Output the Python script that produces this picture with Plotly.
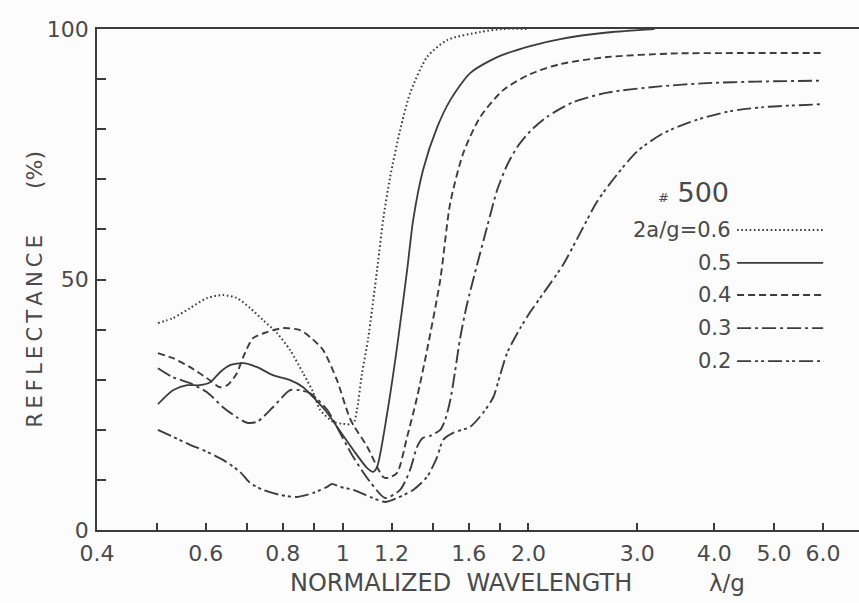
import math
import plotly.graph_objects as go

# ---- data (normalized wavelength lambda/g, reflectance %) ----
x_06 = [0.502, 0.531, 0.566, 0.603, 0.640, 0.674, 0.708, 0.743, 0.783, 0.822, 0.863, 0.896, 0.919,
        0.965, 1.000, 1.040, 1.055, 1.075, 1.100, 1.137, 1.163, 1.194, 1.239, 1.286, 1.370, 1.477,
        1.670, 1.820, 2.000]
y_06 = [41.3, 42.3, 44.3, 46.3, 46.9, 46.3, 44.3, 41.9, 39.3, 35.9, 31.3, 27.5, 24.0,
        21.6, 21.2, 21.2, 24.0, 31.3, 38.3, 51.9, 61.9, 70.5, 79.8, 87.2, 94.4, 97.8,
        99.4, 100.0, 100.0]

x_05 = [0.502, 0.531, 0.560, 0.587, 0.610, 0.633, 0.657, 0.690, 0.727, 0.771, 0.822, 0.863, 0.896,
        0.944, 0.979, 1.040, 1.095, 1.120, 1.137, 1.181, 1.225, 1.272, 1.301, 1.350, 1.423, 1.494,
        1.609, 1.780, 2.013, 2.252, 2.684, 3.2]
y_05 = [25.1, 27.9, 28.9, 28.9, 29.5, 31.5, 32.9, 33.3, 32.5, 30.9, 29.9, 28.5, 26.5,
        23.4, 20.6, 16.0, 12.4, 11.6, 12.6, 23.4, 36.5, 51.9, 61.9, 71.9, 80.4, 85.8,
        91.2, 94.4, 96.6, 98.0, 99.3, 100.0]

x_04 = [0.502, 0.531, 0.566, 0.603, 0.633, 0.652, 0.674, 0.690, 0.716, 0.754, 0.801, 0.853, 0.886,
        0.930, 0.979, 1.030, 1.096, 1.163, 1.185, 1.225, 1.272, 1.320, 1.370, 1.439, 1.494, 1.568,
        1.670, 1.820, 2.013, 2.252, 2.684, 3.4, 4.41, 6.0]
y_04 = [35.3, 34.3, 32.5, 30.3, 28.5, 29.0, 31.3, 34.5, 38.3, 39.5, 40.3, 39.9, 38.5,
        35.9, 29.9, 22.0, 16.6, 10.6, 10.4, 11.4, 18.6, 26.5, 35.9, 49.9, 65.3, 75.2,
        82.4, 87.8, 91.0, 93.0, 94.4, 95.1, 95.2, 95.2]

x_03 = [0.502, 0.531, 0.566, 0.603, 0.640, 0.674, 0.700, 0.727, 0.771, 0.822, 0.853, 0.886, 0.944,
        0.965, 1.040, 1.108, 1.172, 1.239, 1.286, 1.320, 1.350, 1.386, 1.439, 1.466, 1.494, 1.522,
        1.550, 1.592, 1.714, 1.780, 1.848, 1.917, 2.013, 2.145, 2.364, 2.684, 3.234, 3.895,
        4.696, 6.0]
y_03 = [32.3, 30.5, 29.3, 27.5, 24.5, 22.5, 21.4, 21.6, 24.5, 27.9, 27.9, 27.3, 24.0,
        22.0, 14.6, 9.6, 6.4, 8.0, 12.0, 16.6, 18.4, 18.8, 20.0, 22.0, 25.9, 31.9,
        38.3, 45.3, 60.5, 67.9, 72.9, 76.4, 79.6, 82.5, 85.4, 87.3, 88.5, 89.2,
        89.5, 89.7]

x_02 = [0.502, 0.531, 0.566, 0.603, 0.640, 0.682, 0.708, 0.743, 0.792, 0.844, 0.896, 0.944, 0.961,
        0.991, 1.040, 1.108, 1.172, 1.225, 1.301, 1.370, 1.423, 1.455, 1.510, 1.609, 1.689, 1.754,
        1.800, 1.848, 1.939, 2.013, 2.113, 2.277, 2.426, 2.585, 2.785, 3.002, 3.307, 3.754, 4.245,
        4.80, 6.0]
y_02 = [20.0, 18.6, 17.0, 15.6, 14.0, 11.6, 9.4, 8.0, 7.0, 6.6, 7.4, 8.6, 9.2,
        8.6, 8.0, 6.6, 5.6, 6.4, 8.0, 10.6, 14.6, 18.0, 19.4, 20.6, 23.4, 26.5,
        31.0, 35.4, 40.3, 43.5, 47.2, 53.0, 59.3, 65.6, 71.0, 75.6, 79.2, 81.9, 83.6,
        84.4, 85.0]

series_labels = ["2a/g=0.6", "0.5", "0.4", "0.3", "0.2"]
series_x = [x_06, x_05, x_04, x_03, x_02]
series_y = [y_06, y_05, y_04, y_03, y_02]

x_tickvals = [0.4, 0.5, 0.6, 0.7, 0.8, 0.9, 1, 1.2, 1.4, 1.6, 1.8, 2, 3, 4, 5, 6]
x_ticktext = ["0.4", "", "0.6", "", "0.8", "", "1", "1.2", "", "1.6", "", "2.0", "3.0", "4.0", "5.0", "6.0"]
y_tickvals = [0, 10, 20, 30, 40, 50, 60, 70, 80, 90, 100]
y_ticktext = ["0", "", "", "", "", "50", "", "", "", "", "100"]

# ---- styling ----
INK = "#3c3c3c"
TXT = "#4a4a4a"
FONT = "DejaVu Sans"
dashes = ["1.6px,2.6px", "solid", "7px,4px", "14px,4px,3px,4px", "14px,4px,3px,3px,3px,4px"]
widths = [2.0, 1.8, 1.9, 1.9, 1.9]

fig = go.Figure()
for lab, xs, ys, d, w in zip(series_labels, series_x, series_y, dashes, widths):
    fig.add_trace(go.Scatter(
        x=xs, y=ys, mode="lines", name=lab,
        line=dict(color=INK, width=w, dash=d, shape="spline", smoothing=0.7),
        showlegend=False, hoverinfo="skip"))

x_right = math.log10(0.4) + 762 / 617.3

fig.update_layout(
    width=859, height=603,
    margin=dict(l=97, r=0, t=29, b=73),
    paper_bgcolor="#fcfcfc", plot_bgcolor="#fcfcfc",
    font=dict(family=FONT, color=TXT, size=20),
    xaxis=dict(
        type="log", range=[math.log10(0.4), x_right],
        tickmode="array", tickvals=x_tickvals, ticktext=x_ticktext,
        ticks="inside", ticklen=7, tickwidth=1.5, tickcolor=INK,
        showline=True, linecolor=INK, linewidth=2, mirror=True,
        showgrid=False, zeroline=False, ticklabelstandoff=3,
        tickfont=dict(family=FONT, size=22, color=TXT),
    ),
    yaxis=dict(
        range=[0, 100],
        tickmode="array", tickvals=y_tickvals, ticktext=y_ticktext,
        ticks="inside", ticklen=9, tickwidth=1.5, tickcolor=INK,
        showline=True, linecolor=INK, linewidth=1.8, mirror=False,
        showgrid=False, zeroline=False, ticklabelstandoff=2,
        tickfont=dict(family=FONT, size=22, color=TXT),
    ),
)

THIN = "\u2009"
annotations = [
    dict(text=THIN.join("REFLECTANCE"), textangle=-90, x=-0.081, y=0.397, xref="paper", yref="paper",
         xanchor="center", yanchor="middle",
         showarrow=False, font=dict(family=FONT, size=21, color=TXT)),
    dict(text="(%)", textangle=-90, x=-0.081, y=0.719, xref="paper", yref="paper",
         xanchor="center", yanchor="middle",
         showarrow=False, font=dict(family=FONT, size=22, color=TXT)),
    dict(text="NORMALIZED  WAVELENGTH", x=0.25, y=-0.105, xref="paper", yref="paper",
         xanchor="left", yanchor="middle", showarrow=False,
         font=dict(family=FONT, size=24, color=TXT)),
    dict(text="λ/g", x=0.80, y=-0.105, xref="paper", yref="paper",
         xanchor="left", yanchor="middle", showarrow=False,
         font=dict(family=FONT, size=23, color=TXT)),
    dict(text="<span style='font-size:13px'>#</span> 500", x=0.832, y=0.673, xref="paper", yref="paper",
         xanchor="right", yanchor="middle", showarrow=False,
         font=dict(family=FONT, size=27, color=TXT)),
]

row_y = [0.599, 0.533, 0.469, 0.403, 0.337]
shapes = []
for lab, ry, d, w in zip(series_labels, row_y, dashes, widths):
    annotations.append(dict(text=lab, x=0.834, y=ry, xref="paper", yref="paper",
                            xanchor="right", yanchor="middle", showarrow=False,
                            font=dict(family=FONT, size=21, color=TXT)))
    shapes.append(dict(type="line", xref="paper", yref="paper",
                       x0=0.840, x1=0.953, y0=ry, y1=ry,
                       line=dict(color=INK, width=w, dash=d)))

fig.update_layout(annotations=annotations, shapes=shapes)
fig.write_html("out.html")
